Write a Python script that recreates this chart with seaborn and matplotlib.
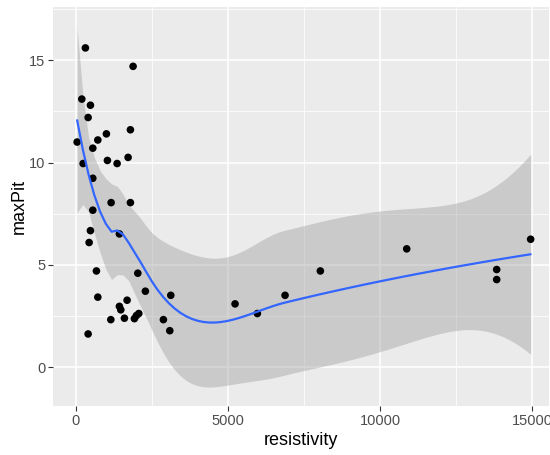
import numpy as np
import pandas as pd
import matplotlib
matplotlib.use('Agg')
import matplotlib.pyplot as plt
import seaborn as sns

# values
resistivity = [315, 1882, 197, 480, 404, 43, 723, 1005, 1794, 558,
               240, 1038, 1357, 1718, 558, 558, 1160, 1794, 480, 437,
               1432, 677, 2037, 723, 2286, 3121, 1685, 1432, 1478, 1150,
               1597, 1925, 1991, 2070, 2878, 3088, 404, 5233, 5966, 6876,
               8036, 10874, 13831, 13831, 14947]
max_pit = [15.6, 14.7, 13.1, 12.8, 12.2, 11.0, 11.1, 11.4, 11.6, 10.7,
           9.95, 10.1, 9.95, 10.25, 9.23, 7.67, 8.04, 8.04, 6.67, 6.09,
           6.51, 4.70, 4.59, 3.42, 3.71, 3.51, 3.27, 2.97, 2.80, 2.32,
           2.39, 2.37, 2.52, 2.62, 2.32, 1.78, 1.62, 3.09, 2.62, 3.51,
           4.70, 5.78, 4.77, 4.28, 6.25]
x_ticks = [0, 5000, 10000, 15000]
y_ticks = [0, 5, 10, 15]

df = pd.DataFrame({'resistivity': resistivity, 'maxPit': max_pit})


def local_rows(x0, x, q):
    # local quadratic with tricube weights -> rows for value and slope
    d = np.abs(x - x0)
    h = np.sort(d)[q - 1]
    w = np.clip(1 - (d / h) ** 3, 0, None) ** 3
    X = np.column_stack([np.ones(len(x)), x - x0, (x - x0) ** 2])
    XtW = X.T * w
    A = np.linalg.solve(XtW @ X, XtW)
    return A[0], A[1]


def kd_vertices(xs, fc):
    # 1-d version of the kd tree that R's loess builds
    lo, hi = xs[0], xs[-1]
    mu = 0.005 * (hi - lo)
    verts = [lo - mu, hi + mu]

    def split(l, u, vlo, vhi):
        if u - l + 1 <= fc:
            return
        m = (l + u + 2) // 2 - 1
        off = 0
        while l <= m + off < u:
            if xs[m + off] == xs[m + off + 1]:
                off = -off
                if off >= 0:
                    off += 1
            else:
                m += off
                break
        xi = xs[m]
        if xi == vlo or xi == vhi:
            return
        verts.append(xi)
        split(l, m, vlo, xi)
        split(m + 1, u, xi, vhi)

    split(0, len(xs) - 1, verts[0], verts[1])
    return np.array(sorted(verts))


def loess_operator(x_new, x, span=0.75, cell=0.2):
    n = len(x)
    q = int(np.floor(n * span))
    fc = int(np.floor(n * span * cell))
    verts = kd_vertices(np.sort(x), fc)
    vals, slopes = zip(*[local_rows(v, x, q) for v in verts])
    vals, slopes = np.array(vals), np.array(slopes)
    rows = []
    for z in x_new:
        j = min(np.searchsorted(verts, z, side='right') - 1, len(verts) - 2)
        h = verts[j + 1] - verts[j]
        u = (z - verts[j]) / h
        p0 = (1 - u) ** 2 * (1 + 2 * u)
        p1 = u ** 2 * (3 - 2 * u)
        s0 = u * (1 - u) ** 2
        s1 = -u ** 2 * (1 - u)
        rows.append(p0 * vals[j] + p1 * vals[j + 1]
                    + h * (s0 * slopes[j] + s1 * slopes[j + 1]))
    return np.array(rows)


x = df['resistivity'].to_numpy() / 1000.0
y = df['maxPit'].to_numpy()
L = loess_operator(x, x)
M = np.eye(len(x)) - L
MM = M.T @ M
one_delta = np.trace(MM)
two_delta = np.trace(MM @ MM)
s = np.sqrt(np.sum((M @ y) ** 2) / one_delta)
dof = one_delta ** 2 / two_delta
z = 1.959964
t = z + (z ** 3 + z) / (4 * dof) + (5 * z ** 5 + 16 * z ** 3 + 3 * z) / (96 * dof ** 2)

grid = np.linspace(x.min(), x.max(), 80)
Lg = loess_operator(grid, x)
fit = Lg @ y
se = s * np.sqrt(np.sum(Lg ** 2, axis=1))

sns.set_style('darkgrid', {'axes.facecolor': '#EBEBEB', 'grid.color': 'white',
                           'axes.edgecolor': '#EBEBEB'})
plt.rcParams['font.family'] = ['Liberation Sans', 'DejaVu Sans']

fig = plt.figure(figsize=(5.5, 4.55), dpi=100)
ax = fig.add_axes([53 / 550, 49 / 455, 496 / 550, 399 / 455])

ax.fill_between(grid * 1000, fit - t * se, fit + t * se, color='#999999',
                alpha=0.4, linewidth=0, zorder=2)
sns.scatterplot(data=df, x='resistivity', y='maxPit', color='black', s=30,
                edgecolor='none', ax=ax, zorder=3)
ax.plot(grid * 1000, fit, color='#3366FF', linewidth=1.6, zorder=4)

ax.set_xlim(-750, 15550)
ax.set_ylim(-1.9, 17.6)
ax.set_xticks(x_ticks)
ax.set_yticks(y_ticks)
ax.set_xticks([2500, 7500, 12500], minor=True)
ax.set_yticks([2.5, 7.5, 12.5, 17.5], minor=True)
ax.grid(which='major', color='white', linewidth=1.1)
ax.grid(which='minor', color='white', linewidth=0.55)
ax.tick_params(which='major', length=3.5, width=0.8, color='#333333',
               labelsize=10.5, labelcolor='#4D4D4D', pad=2, bottom=True, left=True)
ax.tick_params(which='minor', length=0)
for sp in ax.spines.values():
    sp.set_visible(False)
ax.set_xlabel('resistivity', fontsize=13, color='black', labelpad=3)
ax.set_ylabel('maxPit', fontsize=13, color='black', labelpad=1)

fig.savefig('out.png', dpi=100)
